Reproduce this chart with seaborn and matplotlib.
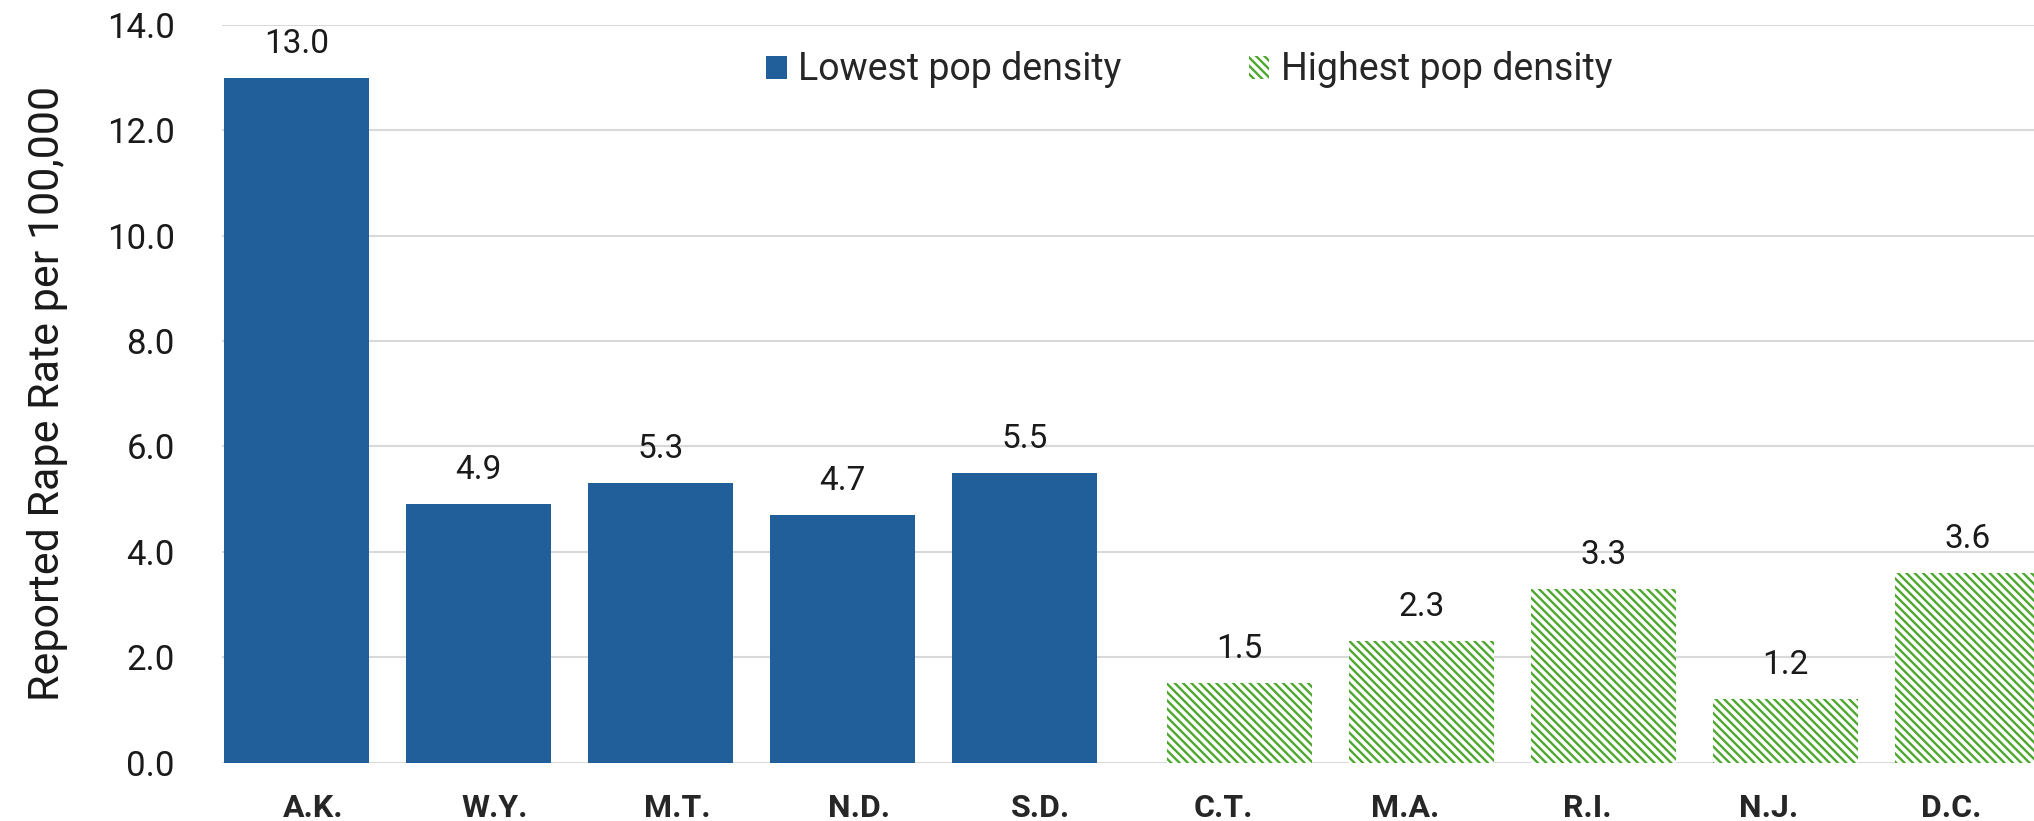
import numpy as np
import pandas as pd
import matplotlib
matplotlib.use("Agg")
import matplotlib.pyplot as plt
from matplotlib.patches import Patch
from matplotlib.ticker import FormatStrFormatter
import seaborn as sns

# Data
states = ["A.K.", "W.Y.", "M.T.", "N.D.", "S.D.", "C.T.", "M.A.", "R.I.", "N.J.", "D.C."]
rates = [13.0, 4.9, 5.3, 4.7, 5.5, 1.5, 2.3, 3.3, 1.2, 3.6]
groups = ["Lowest pop density"] * 5 + ["Highest pop density"] * 5
group_order = ["Lowest pop density", "Highest pop density"]

df = pd.DataFrame({"state": states, "rate": rates, "group": groups})

blue = "#215F9A"
green = "#4EA72E"
grid_color = "#D9D9D9"
hatch = "\\\\\\\\"

sns.set_style("white")
plt.rcParams["font.family"] = ["Roboto", "DejaVu Sans"]
plt.rcParams["hatch.linewidth"] = 1.7

fig = plt.figure(figsize=(20.34, 8.21), dpi=100)
ax = fig.add_axes([222 / 2034, (821 - 762.5) / 821, (2042 - 222) / 2034, (762.5 - 25) / 821])

sns.barplot(data=df, x="state", y="rate", hue="group", hue_order=group_order,
            palette={group_order[0]: blue, group_order[1]: green},
            dodge=False, width=0.8, saturation=1, legend=False, ax=ax, zorder=3)

# Excel-style overlap: series nudged slightly apart around each category
shifts = [-0.09, 0.09]
for cont, shift in zip(ax.containers, shifts):
    for bar in cont:
        bar.set_x(bar.get_x() + shift)
        bar.set_linewidth(0)
for bar in ax.containers[1]:
    bar.set_facecolor("white")
    bar.set_edgecolor(green)
    bar.set_hatch(hatch)

for cont in ax.containers:
    ax.bar_label(cont, fmt="{:.1f}", padding=13, fontsize=24, color="#1a1a1a")

ax.set_ylim(0, 14)
ax.set_xlim(-0.5, 9.5)
ax.set_yticks(np.arange(0, 15, 2))
ax.yaxis.set_major_formatter(FormatStrFormatter("%.1f"))
ax.grid(axis="y", color=grid_color, linewidth=1.5, zorder=0)
ax.set_axisbelow(True)
for s in ax.spines.values():
    s.set_visible(False)

ax.tick_params(axis="y", length=0, pad=34, labelsize=25, labelcolor="#1a1a1a")
ax.tick_params(axis="x", length=0, pad=22, labelsize=23)
for lab in ax.get_xticklabels():
    lab.set_fontweight("bold")
ax.set_xlabel("")
ax.set_ylabel("Reported Rape Rate per 100,000", fontsize=31, labelpad=28, color="#1a1a1a")

handles = [
    Patch(facecolor=blue, edgecolor=blue, linewidth=0, label=group_order[0]),
    Patch(facecolor="white", edgecolor=green, hatch=hatch, linewidth=0, label=group_order[1]),
]
fig.legend(handles=handles, loc="center", bbox_to_anchor=(1189 / 2034, 1 - 70 / 821),
           ncol=2, frameon=False, fontsize=27, handlelength=0.55, handleheight=0.55,
           handletextpad=0.3, columnspacing=3.4)

fig.savefig("out.png", dpi=100)
